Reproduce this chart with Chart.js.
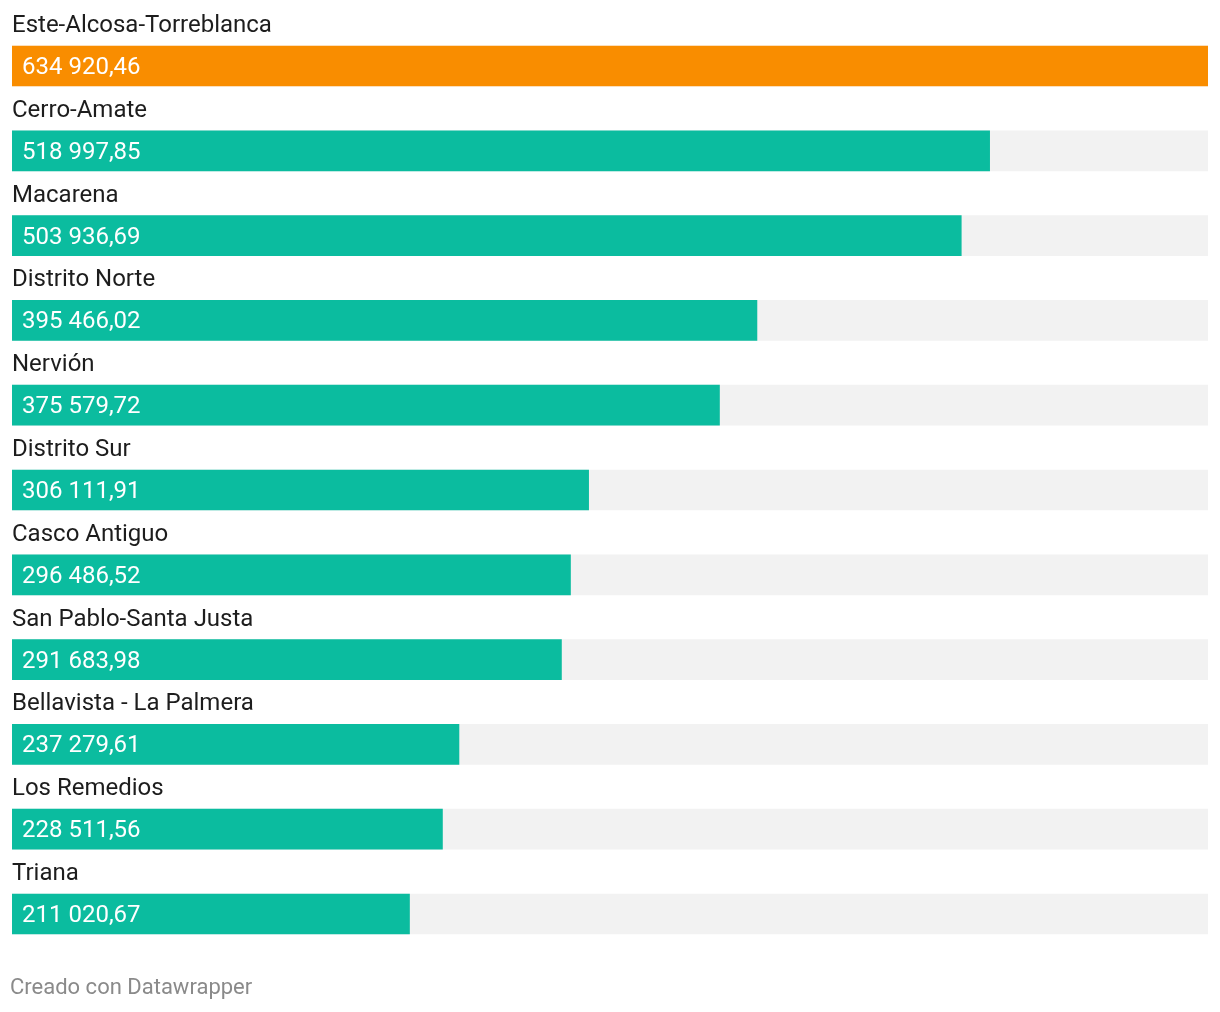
<!DOCTYPE html>
<html>
<head>
<meta charset="utf-8">
<script src="https://cdn.jsdelivr.net/npm/chart.js@4"></script>
<style>
  html, body { margin: 0; padding: 0; background: #fff; }
  #wrap { position: relative; width: 1220px; height: 1012px; }
  #footer {
    position: absolute; left: 10px; top: 973px;
    font-family: Roboto, sans-serif; font-size: 22px; line-height: 28px; color: #8a8a8a;
  }
</style>
</head>
<body>
<div id="wrap">
  <canvas id="chart" width="1220" height="1012"></canvas>
  <div id="footer">Creado con Datawrapper</div>
</div>
<script>
// Data
const districts = ['Este-Alcosa-Torreblanca', 'Cerro-Amate', 'Macarena', 'Distrito Norte', 'Nervión',
    'Distrito Sur', 'Casco Antiguo', 'San Pablo-Santa Justa', 'Bellavista - La Palmera', 'Los Remedios', 'Triana'];
const amounts = [634920.46, 518997.85, 503936.69, 395466.02, 375579.72,
    306111.91, 296486.52, 291683.98, 237279.61, 228511.56, 211020.67];
const highlight = ['Este-Alcosa-Torreblanca'];

const maxValue = Math.max(...amounts);

// "634 920,46"
function formatEs(v) {
    const parts = v.toFixed(2).split('.');
    return parts[0].replace(/\B(?=(\d{3})+(?!\d))/g, ' ') + ',' + parts[1];
}

// Draw district names above bars and values inside them
const labelsPlugin = {
    id: 'barLabels',
    afterDatasetsDraw(chart) {
        const ctx = chart.ctx;
        const meta = chart.getDatasetMeta(1);
        ctx.save();
        ctx.font = '24px Roboto, sans-serif';
        ctx.textAlign = 'left';
        ctx.textBaseline = 'middle';
        meta.data.forEach((bar, i) => {
            const top = bar.y - bar.height / 2;
            ctx.fillStyle = '#1d1d1d';
            ctx.fillText(districts[i], 12, top - 20);
            ctx.fillStyle = '#ffffff';
            ctx.fillText(formatEs(amounts[i]), 22, bar.y + 2);
        });
        ctx.restore();
    }
};

new Chart(document.getElementById('chart'), {
    type: 'bar',
    data: {
        labels: districts,
        datasets: [
            {
                data: districts.map(() => maxValue),
                backgroundColor: '#f2f2f2',
                grouped: false,
                order: 2,
                barThickness: 40
            },
            {
                data: amounts,
                backgroundColor: districts.map(d => highlight.includes(d) ? '#f98d00' : '#0bbc9f'),
                grouped: false,
                order: 1,
                barThickness: 40
            }
        ]
    },
    options: {
        indexAxis: 'y',
        responsive: false,
        animation: false,
        layout: { padding: { left: 12, right: 12, top: 23.6, bottom: 55.6 } },
        plugins: {
            legend: { display: false },
            tooltip: { enabled: false }
        },
        scales: {
            x: { display: false, min: 0, max: maxValue },
            y: { display: false }
        }
    },
    plugins: [labelsPlugin]
});
</script>
</body>
</html>
